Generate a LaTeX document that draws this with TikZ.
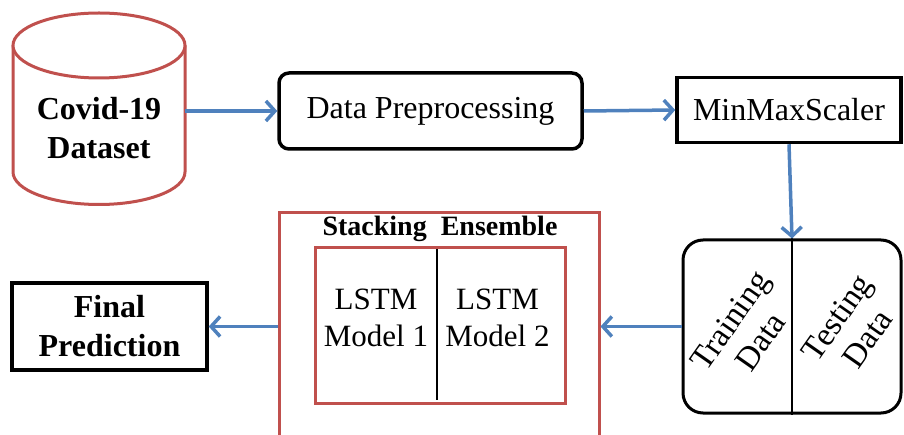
\documentclass[tikz,border=0pt]{standalone}
\usepackage{fontspec}
\setmainfont{Liberation Serif}
\usetikzlibrary{arrows.meta}
\definecolor{offred}{RGB}{192,80,77}
\definecolor{offblue}{RGB}{79,129,189}
\begin{document}
\begin{tikzpicture}[x=1pt,y=-1pt,
  blk/.style={draw=black,line width=3.5pt,fill=white,inner sep=0pt,align=center,
    font=\fontsize{32}{39}\selectfont},
  redbox/.style={draw=offred,line width=3pt,inner sep=0pt},
  flow/.style={draw=offblue,line width=3.5pt,-{Straight Barb[length=9pt,width=20pt,line width=3.5pt]}},
  txt/.style={inner sep=0pt,align=center,font=\fontsize{32}{39}\selectfont},
  boldtxt/.style={txt,font=\fontsize{32}{39}\selectfont\bfseries}]
\useasboundingbox (0,0) rectangle (904,435);
\clip (0,0) rectangle (904,435);
% cylinder
\draw[offred,line width=3pt,fill=white]
  (13,45.5) -- (13,172) arc[start angle=180,end angle=360,x radius=86pt,y radius=32.5pt]
  -- (185,45.5);
\draw[offred,line width=3pt,fill=white] (99,45.5) ellipse[x radius=86pt,y radius=32.5pt];
\node[boldtxt,minimum width=172pt] (ds) at (99,128) {Covid-19\\Dataset};
% boxes
\node[blk,rounded corners=10pt,minimum width=303pt,minimum height=76pt] (dp) at (430.5,111) {Data Preprocessing};
\node[blk,minimum width=224pt,minimum height=65pt] (mm) at (789,110) {MinMaxScaler};
\node[blk,line width=3pt,rounded corners=20pt,minimum width=218pt,minimum height=173pt] (td) at (792,326.5) {};
\draw[black,line width=1.5pt] (td.north) -- (td.south);
\node[txt,rotate=55,font=\fontsize{33}{37}\selectfont] (tr) at (745,331) {Training\\Data};
\node[txt,rotate=55,font=\fontsize{33}{37}\selectfont] (te) at (852,328) {Testing\\Data};
% stacking ensemble
\node[redbox,minimum width=320pt,minimum height=250pt] (se) at (439,338) {};
\node[boldtxt,font=\fontsize{28}{34}\selectfont\bfseries] (st) at (440,229) {Stacking\ \ Ensemble};
\node[redbox,minimum width=250pt,minimum height=155pt] (ens) at (440,325.5) {};
\draw[black,line width=2.5pt] (437,249) -- (437,400);
\node[txt,font=\fontsize{31}{37}\selectfont] (l1) at (376,318) {LSTM\\Model 1};
\node[txt,font=\fontsize{31}{37}\selectfont] (l2) at (497.5,318) {LSTM\\Model 2};
% final prediction
\node[blk,font=\fontsize{32}{39}\selectfont\bfseries,minimum width=195pt,minimum height=87pt] (fp) at (109.5,326.5) {Final\\Prediction};
% connectors
\draw[flow] (ds.east |- dp.west) -- (dp.west);
\draw[flow] (dp.east) -- (mm.west);
\draw[flow] (mm.south) -- (td.north);
\draw[flow] (td.west) -- (td.west -| se.east);
\draw[flow] (se.west |- fp.east) -- (fp.east);
\end{tikzpicture}
\end{document}
